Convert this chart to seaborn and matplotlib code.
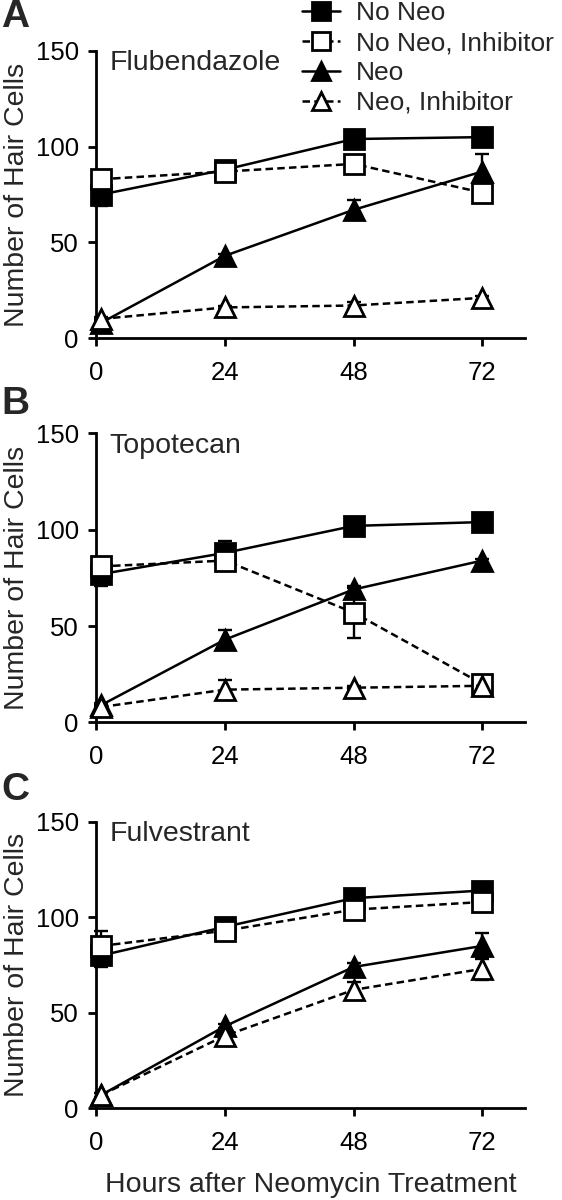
import numpy as np
import pandas as pd
import matplotlib
matplotlib.use("Agg")
import matplotlib.pyplot as plt
import seaborn as sns

# ---------------- data ----------------
hours = [0.9, 24, 48, 72]
xticks = [0, 24, 48, 72]
yticks = [0, 50, 100, 150]
series_names = ["No Neo", "No Neo, Inhibitor", "Neo", "Neo, Inhibitor"]
panel_letters = ["A", "B", "C"]
drugs = ["Flubendazole", "Topotecan", "Fulvestrant"]

# Panel A – Flubendazole
a_noneo = [75, 88, 104, 105]
a_noneo_err = [6, 2, 4, 1]
a_noneo_inh = [83, 87, 91, 76]
a_noneo_inh_err = [3, 2, 4, 4]
a_neo = [8, 43, 67, 87]
a_neo_err = [2, 1, 5, 9]
a_neo_inh = [10, 16, 17, 21]
a_neo_inh_err = [1, 1, 2, 1]

# Panel B – Topotecan
b_noneo = [77, 88, 102, 104]
b_noneo_err = [6, 6, 1, 1]
b_noneo_inh = [81, 84, 57, 20]
b_noneo_inh_err = [3, 2, 13, 2]
b_neo = [9, 43, 69, 84]
b_neo_err = [1, 5, 2, 1]
b_neo_inh = [8, 17, 18, 19]
b_neo_inh_err = [1, 5, 1, 2]

# Panel C – Fulvestrant
c_noneo = [80, 95, 110, 114]
c_noneo_err = [6, 2, 2, 4]
c_noneo_inh = [85, 93, 104, 108]
c_noneo_inh_err = [8, 2, 3, 3]
c_neo = [7, 43, 74, 85]
c_neo_err = [1, 1, 2, 7]
c_neo_inh = [7, 38, 62, 73]
c_neo_inh_err = [1, 2, 4, 6]

panels = [
    [(a_noneo, a_noneo_err), (a_noneo_inh, a_noneo_inh_err), (a_neo, a_neo_err), (a_neo_inh, a_neo_inh_err)],
    [(b_noneo, b_noneo_err), (b_noneo_inh, b_noneo_inh_err), (b_neo, b_neo_err), (b_neo_inh, b_neo_inh_err)],
    [(c_noneo, c_noneo_err), (c_noneo_inh, c_noneo_inh_err), (c_neo, c_neo_err), (c_neo_inh, c_neo_inh_err)],
]

# styles per series: marker, filled, dashed
styles = [("s", True, False), ("s", False, True), ("^", True, False), ("^", False, True)]

# ---------------- style ----------------
sns.set_style("ticks")
plt.rcParams["font.family"] = ["Liberation Sans", "DejaVu Sans"]
plt.rcParams["axes.linewidth"] = 2.0
plt.rcParams["xtick.major.width"] = 2.0
plt.rcParams["ytick.major.width"] = 2.0
plt.rcParams["xtick.major.size"] = 5.8
plt.rcParams["ytick.major.size"] = 5.8
plt.rcParams["xtick.color"] = "black"
plt.rcParams["ytick.color"] = "black"
plt.rcParams["axes.edgecolor"] = "black"

fig = plt.figure(figsize=(5.62, 12.0), dpi=100)

left, width = 0.1717, 0.7625
bottoms = [0.7183, 0.398, 0.0764]
heights = [0.2392, 0.2408, 0.2388]
FS = 20.5
TICK_FS = 18.5

handles = []
for pi, (series, letter, drug) in enumerate(zip(panels, panel_letters, drugs)):
    ax = fig.add_axes([left, bottoms[pi], width, heights[pi]])
    for si, ((vals, errs), (mk, filled, dashed)) in enumerate(zip(series, styles)):
        ax.errorbar(hours, vals, yerr=errs, fmt="none", ecolor="black",
                    elinewidth=1.7, capsize=5, capthick=1.7, zorder=2, clip_on=False)
        sns.lineplot(x=hours, y=vals, ax=ax, color="black",
                     marker=mk, markersize=14 if mk == "s" else 15,
                     markerfacecolor="black" if filled else "white",
                     markeredgecolor="black", markeredgewidth=2.0,
                     linewidth=1.8, linestyle="--" if dashed else "-",
                     label=series_names[si], zorder=3, clip_on=False,
                     legend=False)
        line = ax.lines[-1]
        if dashed:
            line.set_dashes((3.0, 1.7))
        if pi == 0:
            handles.append(line)
    ax.set_xlim(0, 80)
    ax.set_ylim(0, 150)
    ax.set_xticks(xticks)
    ax.set_yticks(yticks)
    ax.tick_params(axis="both", labelsize=TICK_FS, direction="out")
    ax.tick_params(axis="x", pad=10.5)
    ax.tick_params(axis="y", pad=7)
    ax.set_ylabel("Number of Hair Cells", fontsize=FS, labelpad=4)
    ax.set_xlabel("")
    sns.despine(ax=ax)
    ax.text(0.03, 0.958, drug, transform=ax.transAxes, fontsize=FS,
            ha="left", va="center")
    if pi == 2:
        ax.set_xlabel("Hours after Neomycin Treatment", fontsize=FS, labelpad=12)

# panel letters
fig.text(0.002, 0.986, "A", fontsize=28, fontweight="bold", ha="left", va="center")
fig.text(0.002, 0.6633, "B", fontsize=28, fontweight="bold", ha="left", va="center")
fig.text(0.002, 0.3417, "C", fontsize=28, fontweight="bold", ha="left", va="center")

fig.legend(handles, series_names, loc="upper left", bbox_to_anchor=(0.535, 1.0),
           frameon=False, fontsize=19, handlelength=1.45, handletextpad=0.6,
           labelspacing=0.22, borderaxespad=0, borderpad=0.05, markerscale=0.9)

fig.savefig("out.png", dpi=100)
